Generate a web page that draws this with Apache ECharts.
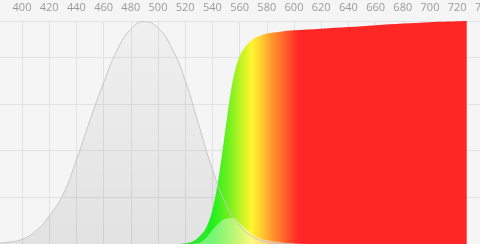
<!DOCTYPE html>
<html>
<head>
<meta charset="utf-8">
<script src="https://cdn.jsdelivr.net/npm/echarts@6/dist/echarts.min.js"></script>
<style>
html,body{margin:0;padding:0;background:#f5f5f5;}
#c{width:480px;height:244px;}
</style>
</head>
<body>
<div id="c"></div>
<script>
// x-axis ticks (nm)
const tickMin = 380;
const tickMax = 740;
const tickStep = 20;

// gray bell curve
const grayX = [380,390,400,410,420,430,440,450,460,470,480,490,500,510,520,530,540,550,560,570,580,590,600];
const grayY = [0.2,0.8,2.0,5.5,12,21,36,53,69,83,92,95.2,92.5,84,70,51,32,17,8,3,1,0.3,0];

// coloured sigmoid curve
const colorX = [515,525,530,535,540,545,550,555,560,565,570,575,580,590,600,620,640,660,680,700,727];
const colorY = [0,1,3,6.5,14.5,30,51,70,80.5,85,87.8,89.2,90.1,90.9,91.5,92.2,92.9,93.7,94.4,95,95.5];

// pale bump at the bottom
const bumpX = [525,530,535,540,545,550,555,560,565,570,575,580,590,600,610];
const bumpY = [0,0.5,2.5,6,9,10.8,11.1,9,6.5,4,2.5,1.7,0.8,0.3,0];

// gradient colour stops by wavelength
const stopNm = [520,540,553,562,569,576,583,591,598,604,740];
const stopCol = ['#3ae03a','#1ef01e','#7af020','#c8f424','#fff530','#ffcc30','#ff9c2e','#ff6e2a','#ff4428','#ff2626','#ff2626'];

const zip = (a,b) => a.map((v,i)=>[v,b[i]]);

const chart = echarts.init(document.getElementById('c'), null, {renderer:'canvas'});
const base = {
  backgroundColor:'#f5f5f5',
  animation:false,
  grid:{left:-5.2,right:-4.4,top:21,bottom:0,containLabel:false,outerBoundsMode:'none'},
  xAxis:{
    type:'value', position:'top', min:tickMin, max:tickMax, interval:tickStep,
    axisLine:{show:false}, axisTick:{show:false},
    axisLabel:{color:'#9a9a9a',fontSize:11,fontFamily:'Open Sans',margin:8,
      showMinLabel:false, showMaxLabel:true, hideOverlap:false,
      formatter:v=> (v===tickMin?'':String(v))},
    splitLine:{show:true,lineStyle:{color:'#e2e2e2',width:1}}
  },
  yAxis:{
    type:'value', min:0, max:95.5, interval:20,
    axisLine:{show:false}, axisTick:{show:false}, axisLabel:{show:false},
    splitLine:{show:true,lineStyle:{color:'#e2e2e2',width:1}}
  },
  series:[]
};
chart.setOption(base);

const x0 = chart.convertToPixel({xAxisIndex:0}, tickMin);
const x1 = chart.convertToPixel({xAxisIndex:0}, tickMax);
const stops = stopNm.map((v,i)=>({offset:(chart.convertToPixel({xAxisIndex:0},v)-x0)/(x1-x0), color:stopCol[i]}));
const spectrum = new echarts.graphic.LinearGradient(x0,0,x1,0,stops,true);

chart.setOption({
  series:[
    {
      type:'line', data:zip(grayX,grayY), smooth:true, showSymbol:false, silent:true,
      lineStyle:{color:'#c6c6c6',width:1},
      areaStyle:{color:new echarts.graphic.LinearGradient(0,0,0,1,[
        {offset:0,color:'rgba(0,0,0,0.03)'},{offset:1,color:'rgba(0,0,0,0.11)'}])}
    },
    {
      type:'line', data:zip(colorX,colorY), smooth:0.35, showSymbol:false, silent:true,
      lineStyle:{width:0},
      areaStyle:{color:spectrum,opacity:1}
    },
    {
      type:'line', data:zip(bumpX,bumpY), smooth:true, showSymbol:false, silent:true,
      lineStyle:{width:0},
      areaStyle:{color:'rgba(255,255,255,0.55)'}
    }
  ]
});
</script>
</body>
</html>
